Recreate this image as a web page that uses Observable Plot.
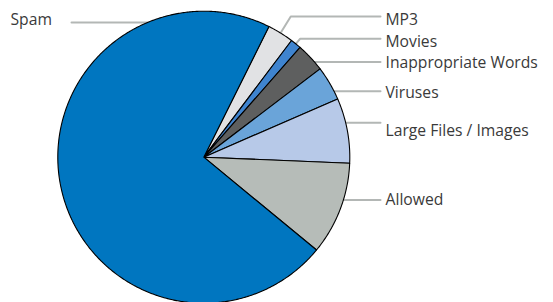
<!DOCTYPE html>
<html><head><meta charset="utf-8">
<script src="https://cdn.jsdelivr.net/npm/d3@7"></script>
<script src="https://cdn.jsdelivr.net/npm/@observablehq/plot@0.6"></script>
<style>body{margin:0;background:#fff}</style>
</head><body><div id="chart"></div>
<script>
// ---- data ----
const categories = ["MP3", "Movies", "Inappropriate Words", "Viruses", "Large Files / Images", "Allowed", "Spam"];
const shares = [2.9, 1.2, 3.2, 3.8, 7.2, 10.3, 71.4];
const colors = ["#e1e2e4", "#3f84cf", "#5e5f5f", "#6aa4d9", "#b7c9e8", "#b6bcb8", "#0076c0"];

// ---- layout ----
const W = 553, H = 302;
const CX = 203.3, CY = 156.7, R = 146;
const START = 26.5 * Math.PI / 180;
const lineYs = [16, 38.3, 61.5, 90.7, 122.3, 199.5, 22];
const textYs = [19.5, 41, 62.5, 92, 130.5, 199.5, 19];
const sides = ["right", "right", "right", "right", "right", "right", "left"];
const rightLineEnd = 380, rightTextX = 385;
const leftLineStart = 71, leftTextX = 10;

const rows = categories.map((c, i) => ({cat: c, share: shares[i], color: colors[i], i}));
const arcs = d3.pie().sort(null).value(d => d.share).startAngle(START).endAngle(START + 2 * Math.PI)(rows);

const px = (a, r) => CX + r * Math.sin(a);
const py = (a, r) => CY - r * Math.cos(a);

// slice polygons
const slicePts = [];
for (const a of arcs) {
  const d = a.data;
  slicePts.push({cat: d.cat, color: d.color, x: CX, y: CY});
  const n = Math.max(2, Math.ceil((a.endAngle - a.startAngle) / (Math.PI / 360)));
  for (let k = 0; k <= n; k++) {
    const t = a.startAngle + (a.endAngle - a.startAngle) * k / n;
    slicePts.push({cat: d.cat, color: d.color, x: px(t, R), y: py(t, R)});
  }
}

// leader lines
const norm = t => ((t % (2 * Math.PI)) + 2 * Math.PI) % (2 * Math.PI);
const inArc = (t, a) => {
  const s = norm(a.startAngle), span = a.endAngle - a.startAngle;
  return norm(t - s) <= span;
};
const leaderPts = [];
for (const a of arcs) {
  const d = a.data, i = d.i, ly = lineYs[i];
  const dy = CY - ly;
  if (sides[i] === "left") {
    const xe = CX - Math.sqrt(Math.max(0, R * R - dy * dy)) + 3;
    leaderPts.push({cat: d.cat, x: leftLineStart, y: ly}, {cat: d.cat, x: xe, y: ly});
    continue;
  }
  const th = Math.abs(dy) < R ? Math.acos(dy / R) : NaN;
  if (!isNaN(th) && inArc(th, a)) {
    leaderPts.push({cat: d.cat, x: px(th, R) - 3, y: ly}, {cat: d.cat, x: rightLineEnd, y: ly});
  } else {
    const am = (a.startAngle + a.endAngle) / 2;
    const r = dy / Math.cos(am);
    leaderPts.push({cat: d.cat, x: px(am, R - 2), y: py(am, R - 2)},
                   {cat: d.cat, x: px(am, r), y: ly},
                   {cat: d.cat, x: rightLineEnd, y: ly});
  }
}

const labels = rows.map(d => ({
  cat: d.cat,
  x: sides[d.i] === "left" ? leftTextX : rightTextX,
  y: textYs[d.i]
}));

const chart = Plot.plot({
  width: W, height: H, margin: 0,
  style: {background: "#fff"},
  x: {domain: [0, W], range: [0, W], axis: null},
  y: {domain: [0, H], range: [0, H], axis: null},
  color: {type: "identity"},
  marks: [
    Plot.line(leaderPts, {x: "x", y: "y", z: "cat", stroke: "#b3b7b5", strokeWidth: 2}),
    Plot.line(slicePts, {x: "x", y: "y", z: "cat", fill: "color", stroke: "#000", strokeWidth: 1.1, curve: "linear-closed", strokeLinejoin: "round"}),
    Plot.text(labels, {x: "x", y: "y", text: "cat", textAnchor: "start", fontSize: 15.7, fill: "#3a3a3a", fontFamily: "Open Sans"})
  ]
});
document.getElementById("chart").appendChild(chart);
</script>
</body></html>
